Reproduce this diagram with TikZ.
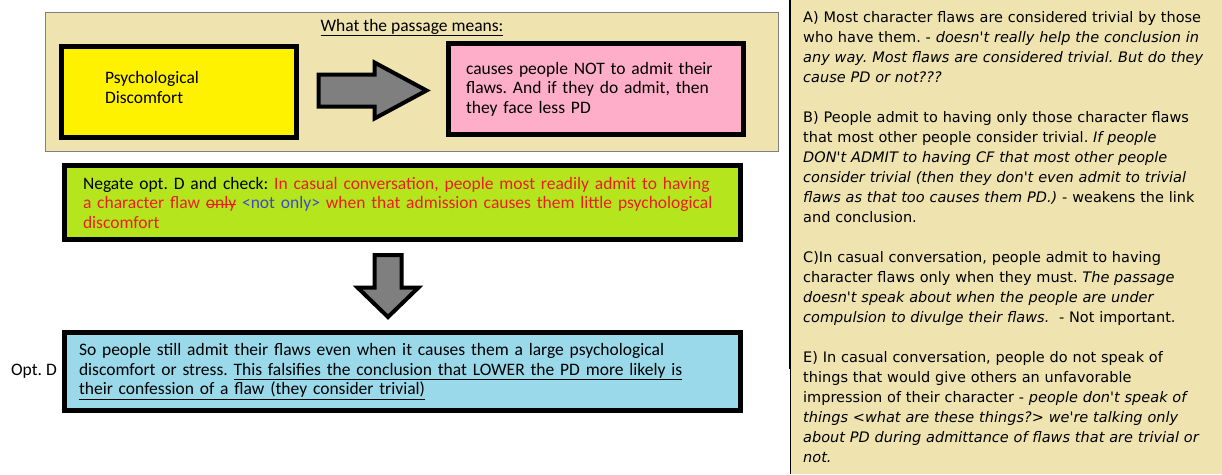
\documentclass[tikz,border=0pt]{standalone}
\usepackage{fontspec}
\setmainfont{Carlito}
\newfontfamily\optfont{DejaVu Sans}
\usetikzlibrary{positioning, calc}

\definecolor{paper}{RGB}{239,228,176}
\definecolor{lemon}{RGB}{255,242,0}
\definecolor{rose}{RGB}{255,174,201}
\definecolor{lime}{RGB}{181,230,29}
\definecolor{sky}{RGB}{153,217,234}
\definecolor{shaft}{RGB}{127,127,127}
\definecolor{redtext}{RGB}{237,28,36}
\definecolor{bluetext}{RGB}{63,72,204}

\newlength\strikewd
\newcommand\strikeit[1]{\settowidth{\strikewd}{#1}\rlap{\rule[0.45ex]{\strikewd}{1pt}}#1}
\frenchspacing

\begin{document}
\begin{tikzpicture}[
    x=1pt, y=-1pt,
    box/.style={
        rectangle,
        draw,
        line width=5pt,
        align=left,
        inner sep=0pt,
        font=\fontsize{17.5}{19.5}\selectfont
    },
    panel/.style={
        rectangle,
        draw=shaft,
        fill=paper,
        line width=1.5pt
    },
    blockarrow/.style={
        draw,
        fill=shaft,
        line width=4pt
    }
]
\useasboundingbox (0,0) rectangle (1222,474);

% what the passage means
\node[panel, minimum width=733pt, minimum height=139pt] (meaning) at (412,82) {};
\node[font=\fontsize{17.5}{19.5}\selectfont, inner sep=0pt, below=7pt of meaning.north] (title)
{\underline{What the passage means:}};

\node[box, fill=lemon, minimum width=235pt, minimum height=91pt, text width=148pt] (pd) at (179,92)
{Psychological\\Discomfort\\[-10pt]\mbox{}};

\node[box, fill=rose, minimum width=295pt, minimum height=91pt, text width=260pt] (admit) at (596,89)
{causes people NOT to admit their\\flaws. And if they do admit, then\\they face less PD};

\coordinate (causes) at ($(pd.east)!0.5!(admit.west)$);
\draw[blockarrow, shift={(causes)}]
    (-54,-16) -- (2,-16) -- (2,-28) -- (54,0) -- (2,28) -- (2,16) -- (-54,16) -- cycle;

% negation of option D
\node[box, fill=lime, minimum width=676pt, minimum height=74pt, text width=639pt] (negate) at (402.5,202.5)
{Negate opt. D and check: {\color{redtext}In casual conversation, people most readily admit to having}\\
{\color{redtext}a character flaw \strikeit{only}} {\color{bluetext}<not only>} {\color{redtext}when that admission causes them little psychological}\\
{\color{redtext}discomfort}};

\node[box, fill=sky, minimum width=676pt, minimum height=78pt, text width=647pt] (optd) at (402.5,371.5)
{So people still admit their flaws even when it causes them a large psychological\\
discomfort or stress. \underline{This falsifies the conclusion that LOWER the PD more likely is}\\
\underline{their confession of a flaw (they consider trivial)}};

\coordinate (check) at ($(negate.south)!0.5!(optd.north)+(-14.5,0)$);
\draw[blockarrow, shift={(check)}]
    (-13.5,-31) -- (13.5,-31) -- (13.5,1.5) -- (30.5,1.5) -- (0,31) -- (-30.5,1.5) -- (-13.5,1.5) -- cycle;

\node[font=\fontsize{17.5}{19.5}\selectfont, inner sep=0pt, left=5pt of optd] (label) {Opt. D};

% answer options
\node[fill=paper, anchor=north west, minimum height=474pt,
      text width=419pt, inner xsep=12pt, align=left,
      font=\optfont\fontsize{14.5}{20}\selectfont] (options) at (791,0)
{A) Most character flaws are considered trivial by those\\
who have them. - \textit{doesn't really help the conclusion in}\\
\textit{any way. Most flaws are considered trivial. But do they}\\
\textit{cause PD or not???}\\[20pt]
B) People admit to having only those character flaws\\
that most other people consider trivial. \textit{If people}\\
\textit{DON't ADMIT to having CF that most other people}\\
\textit{consider trivial (then they don't even admit to trivial}\\
\textit{flaws as that too causes them PD.)} - weakens the link\\
and conclusion.\\[20pt]
C)In casual conversation, people admit to having\\
character flaws only when they must. \textit{The passage}\\
\textit{doesn't speak about when the people are under}\\
\textit{compulsion to divulge their flaws.}\ \ - Not important.\\[20pt]
E) In casual conversation, people do not speak of\\
things that would give others an unfavorable\\
impression of their character - \textit{people don't speak of}\\
\textit{things <what are these things?> we're talking only}\\
\textit{about PD during admittance of flaws that are trivial or}\\
\textit{not.}};

\coordinate (split) at (790,369);
\draw[line width=2pt] (options.north west) ++(-1,0) -- (split);
\draw[line width=1pt] (split) -- ($(options.south west)+(-1,0)$);
\end{tikzpicture}
\end{document}
